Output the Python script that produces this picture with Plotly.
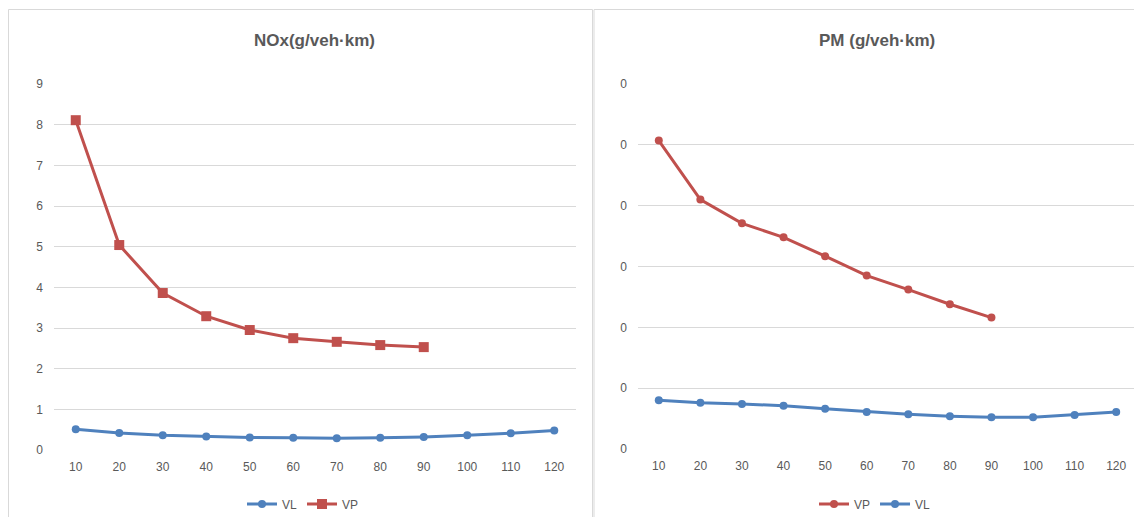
import plotly.graph_objects as go

speeds = ["10", "20", "30", "40", "50", "60", "70", "80", "90", "100", "110", "120"]
speeds_vp = ["10", "20", "30", "40", "50", "60", "70", "80", "90"]

nox_vl = [0.51, 0.42, 0.36, 0.33, 0.31, 0.30, 0.29, 0.30, 0.32, 0.36, 0.41, 0.48]
nox_vp = [8.11, 5.04, 3.86, 3.29, 2.95, 2.75, 2.66, 2.58, 2.53]

pm_vp = [0.0507, 0.0410, 0.0371, 0.0348, 0.0317, 0.0285, 0.0262, 0.0238, 0.0216]
pm_vl = [0.0080, 0.0076, 0.0074, 0.0071, 0.0066, 0.0061, 0.0057, 0.0054, 0.0052, 0.0052, 0.0056, 0.0061]

BLUE = "#4f81bd"
RED = "#c0504d"
GRID = "#d9d9d9"
TXT = "#595959"
FONT = "Liberation Sans"

# page body has an 8px margin; work in screen coordinates and convert
OFF = 8
W, H = 1142 - OFF, 517 - OFF
px = lambda x: (x - OFF) / W
py = lambda y: (H - (y - OFF)) / H

fig = go.Figure()

fig.add_trace(go.Scatter(x=speeds, y=nox_vl, name="VL", mode="lines+markers",
                         line=dict(color=BLUE, width=3),
                         marker=dict(symbol="circle", size=8, color=BLUE),
                         xaxis="x", yaxis="y", legend="legend"))
fig.add_trace(go.Scatter(x=speeds_vp, y=nox_vp, name="VP", mode="lines+markers",
                         line=dict(color=RED, width=3),
                         marker=dict(symbol="square", size=10, color=RED),
                         xaxis="x", yaxis="y", legend="legend"))

fig.add_trace(go.Scatter(x=speeds_vp, y=pm_vp, name="VP", mode="lines+markers",
                         line=dict(color=RED, width=3),
                         marker=dict(symbol="circle", size=8, color=RED),
                         xaxis="x2", yaxis="y2", legend="legend2"))
fig.add_trace(go.Scatter(x=speeds, y=pm_vl, name="VL", mode="lines+markers",
                         line=dict(color=BLUE, width=3),
                         marker=dict(symbol="circle", size=8, color=BLUE),
                         xaxis="x2", yaxis="y2", legend="legend2"))

axis_common = dict(showline=False, zeroline=False, ticks="",
                   tickfont=dict(family=FONT, size=12, color=TXT))

fig.update_layout(
    width=W, height=H,
    margin=dict(l=0, r=0, t=0, b=0, autoexpand=False),
    paper_bgcolor="white", plot_bgcolor="white",
    font=dict(family=FONT, color=TXT),
    xaxis=dict(domain=[px(54), px(576)], type="category", categoryorder="array",
               categoryarray=speeds, range=[-0.5, 11.5], showgrid=False,
               anchor="y", automargin=False, ticklabelstandoff=8, **axis_common),
    yaxis=dict(domain=[py(450), py(84)], range=[0, 9], dtick=1,
               showgrid=True, gridcolor=GRID, gridwidth=1, anchor="x",
               ticklabelstandoff=10, automargin=False, **axis_common),
    xaxis2=dict(domain=[px(638), px(1137)], type="category", categoryorder="array",
                categoryarray=speeds, range=[-0.5, 11.5], showgrid=False,
                anchor="y2", automargin=False, ticklabelstandoff=8, **axis_common),
    yaxis2=dict(domain=[py(449), py(84)], range=[0, 0.06], dtick=0.01,
                tickformat=".0f", showgrid=True, gridcolor=GRID, gridwidth=1,
                anchor="x2", ticklabelstandoff=10, automargin=False, **axis_common),
    legend=dict(orientation="h", x=px(303), xanchor="center", y=py(504), yanchor="middle",
                font=dict(family=FONT, size=12, color=TXT), bgcolor="rgba(0,0,0,0)",
                itemwidth=30, tracegroupgap=0),
    legend2=dict(orientation="h", x=px(875), xanchor="center", y=py(504), yanchor="middle",
                 font=dict(family=FONT, size=12, color=TXT), bgcolor="rgba(0,0,0,0)",
                 itemwidth=30, tracegroupgap=0),
    showlegend=True,
    shapes=[
        dict(type="rect", xref="paper", yref="paper", x0=px(8.5), x1=px(592.5),
             y0=-0.05, y1=py(9.5), line=dict(color=GRID, width=1), fillcolor="rgba(0,0,0,0)"),
        dict(type="rect", xref="paper", yref="paper", x0=px(594), x1=px(1150),
             y0=-0.05, y1=py(9.5), line=dict(color=GRID, width=1), fillcolor="rgba(0,0,0,0)"),
    ],
    annotations=[
        dict(text="<b>NOx(g/veh·km)</b>", xref="paper", yref="paper", x=px(314), y=py(40),
             xanchor="center", yanchor="middle", showarrow=False,
             font=dict(family=FONT, size=17, color=TXT)),
        dict(text="<b>PM (g/veh·km)</b>", xref="paper", yref="paper", x=px(877), y=py(41),
             xanchor="center", yanchor="middle", showarrow=False,
             font=dict(family=FONT, size=17, color=TXT)),
    ],
)

fig.write_html("out.html")
